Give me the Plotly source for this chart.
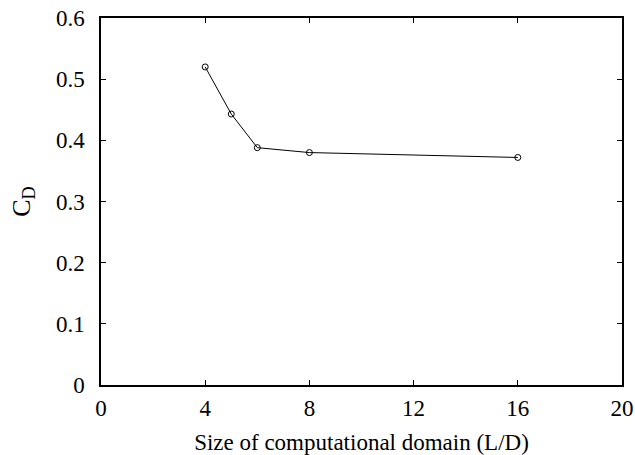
import plotly.graph_objects as go

domain_size = [4, 5, 6, 8, 16]
cd_values = [0.520, 0.443, 0.388, 0.380, 0.372]
x_ticks = [0, 4, 8, 12, 16, 20]
y_ticks = [0, 0.1, 0.2, 0.3, 0.4, 0.5, 0.6]
y_tick_labels = ["0", "0.1", "0.2", "0.3", "0.4", "0.5", "0.6"]

fig = go.Figure()
fig.add_trace(go.Scatter(
    x=domain_size, y=cd_values, mode="lines+markers",
    line=dict(color="black", width=1),
    marker=dict(symbol="circle-open", size=6, color="black", line=dict(width=1)),
    showlegend=False,
))

font = dict(family="Liberation Serif", size=23, color="black")
fig.update_layout(
    width=635, height=455,
    margin=dict(l=101, r=13, t=18, b=70),
    paper_bgcolor="white", plot_bgcolor="white",
    font=font,
)
fig.update_xaxes(
    range=[0, 20], tickvals=x_ticks, ticks="inside", ticklen=5, tickwidth=1,
    tickcolor="black", showline=True, linecolor="black", linewidth=1.5,
    mirror="ticks", showgrid=False, zeroline=False, ticklabelstandoff=2,
    automargin=False,
    title=dict(text="Size of computational domain (L/D)", font=dict(size=23), standoff=16),
)
fig.update_yaxes(
    range=[0, 0.6], tickvals=y_ticks, ticktext=y_tick_labels, ticks="inside",
    ticklen=5, tickwidth=1, tickcolor="black", showline=True, linecolor="black",
    linewidth=1.5, mirror="ticks", showgrid=False, zeroline=False,
    ticklabelstandoff=10, automargin=False,
    title=dict(text="C<sub>D</sub>", font=dict(size=26), standoff=18),
)
fig.write_html("out.html")
